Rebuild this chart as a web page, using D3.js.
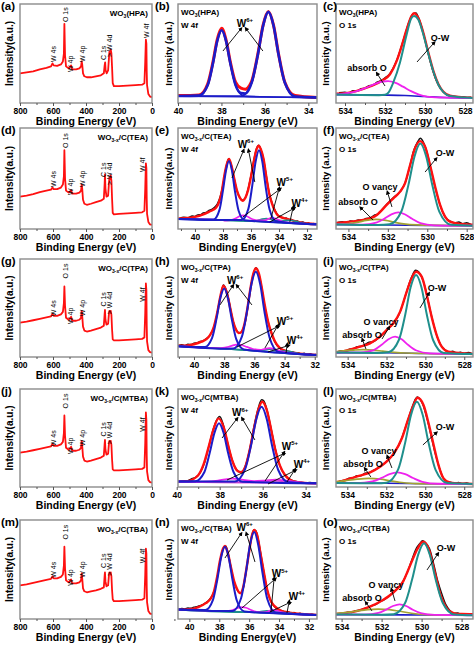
<!DOCTYPE html>
<html><head><meta charset="utf-8">
<script src="https://cdn.jsdelivr.net/npm/d3@7"></script>
<style>body{margin:0;background:#fff}svg{display:block}text{font-family:"Liberation Sans",Arial,sans-serif}</style>
</head><body><svg id="c" width="474" height="646"></svg>
<script>
// ================= DATA =================
const surveyTicks=[800,600,400,200,0], surveyMinor=[700,500,300,100];
const w4fTicksA=[40,38,36,34], w4fMinorA=[39,37,35];
const w4fTicksB=[40,38,36,34,32], w4fMinorB=[41,39,37,35,33];
const o1sTicks=[534,532,530,528], o1sMinor=[533,531,529];

const surveyA=[[800,30],[760,31],[720,32],[680,34],[640,35.5],[612,37],[603,40],[596,38],[575,37.5],[552,39],[540,42],[534,50],[531,80],[527,48],[521,37],[505,35],[495,37],[490,38],[484,34],[460,34],[440,35],[430,37],[426,42],[423,39],[418,30],[410,27],[395,26],[370,26],[340,27],[310,28],[292,30],[287,38],[284,41],[281,33],[275,30],[266,33],[261,45],[258,52],[254,50],[250,54],[246,50],[242,36],[238,20],[231,17],[200,17],[150,17.5],[100,18],[60,18.5],[46,20],[41,42],[37,64],[34,60],[32,32],[30,18],[22,9],[12,6.5],[0,6]];
const surveyD=[[800,32],[760,33],[720,34.5],[680,36.5],[640,38],[612,39],[603,41],[596,39.5],[575,39.5],[552,41],[540,44],[534,52],[531,78],[527,50],[521,38],[505,36],[495,37.5],[490,38.5],[484,35],[460,35],[440,36],[430,38],[426,44],[423,40],[418,29],[410,25],[395,24],[370,25],[340,26.5],[310,28],[292,30],[287,45],[285,54],[282,40],[276,32],[266,33],[261,45],[258,51],[254,49],[250,53],[246,48],[242,30],[238,16],[231,14.5],[200,15],[150,15.5],[100,16],[60,16.5],[46,18],[41,40],[37,65],[34,60],[32,30],[30,15],[22,7],[12,4.5],[0,4]];
const surveyG=[[800,35],[760,36],[720,37.5],[680,39],[640,40.5],[612,41.5],[603,44],[596,42],[575,42],[552,43.5],[540,46],[534,55],[531,72],[527,52],[521,40],[505,38],[495,40],[490,41],[484,37],[460,37],[440,38],[430,40],[426,47],[423,42],[418,31],[410,27],[395,26],[370,27],[340,28.5],[310,30],[292,32],[287,44],[285,48],[282,38],[276,33],[266,34],[261,44],[258,47],[254,45],[250,47],[246,43],[242,28],[238,18],[231,17],[200,17],[150,17.5],[100,18],[60,18.5],[46,20],[41,45],[37,75],[34,68],[32,33],[30,16],[22,7],[12,5],[0,4.5]];
const surveyJ=[[800,35],[760,36],[720,37.5],[680,39],[640,40.5],[612,41.5],[603,44],[596,42],[575,42],[552,43.5],[540,46],[534,55],[531,73],[527,52],[521,40],[505,38],[495,40],[490,41],[484,37],[460,37],[440,38],[430,40],[426,47],[423,42],[418,31],[410,27],[395,26],[370,27],[340,28.5],[310,30],[292,32],[287,44],[285,48],[282,38],[276,33],[266,34],[261,44],[258,47],[254,45],[250,47],[246,43],[242,28],[238,18],[231,17],[200,17],[150,17.5],[100,18],[60,18.5],[46,20],[41,45],[37,76],[34,68],[32,33],[30,16],[22,7],[12,5],[0,4.5]];
const surveyM=[[800,34],[760,35],[720,36.5],[680,38],[640,39.5],[612,40.5],[603,43],[596,41],[575,41],[552,42.5],[540,45],[534,54],[531,73],[527,51],[521,39],[505,37],[495,39],[490,40],[484,36],[460,36],[440,37],[430,39],[426,46],[423,41],[418,31],[410,28],[395,27],[370,28],[340,29],[310,30.5],[292,32],[287,44],[285,47],[282,38],[276,33],[266,34],[261,44],[258,47],[254,45],[250,47],[246,43],[242,29],[238,20],[231,18],[200,18],[150,18.5],[100,19],[60,19.5],[46,21],[41,45],[37,71],[34,66],[32,33],[30,17],[22,8],[12,5.5],[0,5]];

const surveyLabelNames=["W 4s","O 1s","W 4p","W 4p","C 1s","> W 4d","W 4f"];
const surveyLabelBE=[600,527,491,424,291,255,36];
const surveyLabelBE2=[600,527,491,424,291,255,60];
const surveyLabelA=[41.4,81.8,31.3,41.4,43.4,46.5,65.7];
const surveyLabelD=[41.6,80.2,33.7,41.6,51.5,43.6,56.4];

// (b) WO3(HPA) W 4f
const b_data=[[40,7.5],[39.03,8.2],[38.63,19.5],[38.39,41.5],[38.19,64.5],[37.99,75.5],[37.79,64],[37.59,41.5],[37.35,21],[37.1,15],[36.9,14],[36.7,18],[36.6,22.5],[36.32,50],[36.08,79],[35.84,92.5],[35.6,78.5],[35.37,49.5],[35.08,21],[34.61,7.5],[33.6,5.5]];
const b_env=[[40,7],[39.03,7.4],[38.63,18.1],[38.39,40.1],[38.19,62.9],[37.99,73.5],[37.79,62.8],[37.59,40],[37.35,18],[37.1,10],[36.9,9.5],[36.75,13],[36.6,21],[36.32,49.1],[36.08,78.2],[35.84,92],[35.6,78.1],[35.37,48.9],[35.08,20.4],[34.61,6.5],[33.6,5.5]];
const b_w6a=[[40,7],[39.03,7.4],[38.63,18.1],[38.39,40.1],[38.19,62.9],[37.99,73.5],[37.79,62.8],[37.59,39.9],[37.35,17.8],[36.95,6.9],[33.6,5.5]];
const b_w6b=[[40,7],[37.08,7.1],[36.6,20.8],[36.32,49.1],[36.08,78.2],[35.84,92],[35.6,78.1],[35.37,48.9],[35.08,20.4],[34.61,6.5],[33.6,5.5]];
const b_bg=[[40,7],[37,6.3],[35,5.8],[33.6,5.5]];

// (c) WO3(HPA) O 1s
const c_data=[[534.3,10.5],[534.0,11],[533.8,10],[533.6,12.5],[533.4,12],[533.2,14.5],[533.0,15],[532.8,17.5],[532.6,18],[532.4,21],[532.2,22.5],[532.0,25.5],[531.8,28.5],[531.6,35],[531.4,44],[531.2,56],[531.0,69],[530.8,82],[530.6,90],[530.45,91],[530.3,85],[530.1,72],[529.9,55],[529.7,39],[529.5,26],[529.3,17],[529.1,11.5],[528.9,8],[528.7,7],[528.5,6.5],[528.3,5.8],[528.1,6.3],[527.9,5.4],[527.7,5.8]];
const c_env=[[534.45,9.5],[534.08,9.7],[533.4,12.3],[532.75,16.7],[532.17,22.3],[531.75,29],[531.42,42.3],[531.17,57.3],[530.92,74],[530.67,88],[530.55,90.7],[530.33,85.7],[530.08,70.7],[529.83,50.7],[529.58,32.3],[529.33,19],[529.08,11.3],[528.75,7.3],[527.75,5.3],[527.6,5.2]];
const c_ow=[[534.45,8.5],[532.3,7.9],[532,8.3],[531.83,10.5],[531.58,21],[531.25,41],[530.92,69],[530.7,85],[530.55,88],[530.33,84],[530.08,69],[529.83,49.5],[529.58,31.5],[529.33,18.5],[529.08,11],[528.75,7],[527.6,5]];
const c_abs=[[534.45,8.8],[534,9.6],[533.5,11.5],[533,15],[532.5,19.3],[532.1,21.7],[531.85,22],[531.5,20.5],[531.1,16.5],[530.7,12],[530.3,8.5],[529.9,6.5],[529.3,5.6],[527.6,5]];
const c_bg=[[534.45,8.5],[532,8],[531,7.5],[530,6.5],[529,5.5],[527.6,5]];

// (e) TEA W 4f
const e_data=[[41.1,10.5],[40.8,11.8],[40.5,11.2],[40.2,12.8],[40,12.4],[39.8,14],[39.6,14.2],[39.4,16],[39.2,16.5],[39,18.5],[38.8,19.5],[38.6,21.5],[38.4,25],[38.2,32],[38,44],[37.8,60],[37.6,69.5],[37.4,63],[37.2,50],[37,38],[36.8,31],[36.6,28.5],[36.4,31],[36.2,40],[36,53],[35.8,68],[35.6,80],[35.45,83],[35.3,79],[35.1,69],[34.9,52],[34.7,36],[34.5,26],[34.3,19],[34.1,14],[33.9,12.5],[33.7,10.5],[33.5,11],[33.3,9],[33.1,9.5],[32.9,7.5],[32.7,8],[32.5,6.5],[32.3,7],[32.1,5.5],[31.9,6],[31.7,4.8],[31.5,5.5]];
const e_env=[[41.21,10.3],[40.5,11],[40,12],[39.4,14.5],[39,17],[38.7,19],[38.5,21],[38.3,26],[38.1,36],[37.9,53],[37.75,63],[37.57,69.3],[37.4,63],[37.2,50],[37.0,38],[36.8,31],[36.6,28],[36.4,31],[36.2,39],[36.0,52],[35.8,67],[35.6,79],[35.45,82.5],[35.3,79],[35.1,69],[34.9,51],[34.7,35],[34.5,25],[34.3,18],[34.05,13],[33.7,11],[33.3,9.5],[32.8,7.5],[32,5.5],[31.29,4.8]];
const e_w6a=[[41.21,10],[40,9.6],[38.68,9.3],[38.25,18.9],[38.0,38.2],[37.78,58.2],[37.57,67.4],[37.36,57.8],[37.15,37.8],[36.89,18.3],[36.46,8.7],[34,6.5],[31.29,4.6]];
const e_w6b=[[41.21,10],[38,8.8],[36.67,8.8],[36.19,19.9],[35.91,42.9],[35.67,66.7],[35.43,78],[35.19,66.5],[34.96,42.5],[34.67,19.1],[34.19,7.6],[32,5],[31.29,4.6]];
const e_w5=[[41.21,10],[38,8.8],[37.85,8.3],[37.35,9.1],[37.05,10.9],[36.8,12.7],[36.55,13.4],[36.3,12.6],[36.05,10.7],[35.75,9.1],[35.5,8.5],[35.0,8.6],[34.75,10.1],[34.5,11],[34.25,10.3],[34.0,8.8],[33.7,7.2],[33.2,6.2],[32,5],[31.29,4.6]];
const e_w4=[[41.21,10],[38,8.8],[36,7.8],[35.5,8.6],[35.2,9.8],[34.9,10.3],[34.6,9.6],[34.2,8.3],[33.7,8.4],[33.2,8.6],[32.8,7.6],[32.3,5.6],[31.29,4.6]];
const e_bg=[[41.21,10],[40,9.6],[38,8.8],[36,7.8],[34,6.5],[32,5],[31.29,4.6]];

// (f) TEA O 1s
const f_data=[[534.55,6.5],[534.3,7.2],[534.1,6.2],[533.9,8],[533.7,7.4],[533.5,9],[533.3,8.6],[533.1,10.5],[532.9,11],[532.7,13.5],[532.5,15],[532.3,19],[532.1,23.5],[531.9,27.5],[531.7,31.5],[531.5,34.5],[531.3,39],[531.1,47],[530.9,61],[530.7,77],[530.5,86],[530.35,89.8],[530.2,86],[530,75],[529.8,58],[529.6,41],[529.4,27],[529.2,16],[529,10],[528.8,7.5],[528.6,6],[528.4,7],[528.2,5.2],[528,6.2],[527.8,4.5]];
const f_env=[[534.63,6],[534.42,6.3],[533.8,7.5],[533.24,9],[532.56,13.9],[532.06,23.8],[531.72,30.4],[531.38,37],[531.13,45.2],[530.87,63.4],[530.62,79.9],[530.37,87],[530.11,81.5],[529.86,63.4],[529.6,41.9],[529.35,23.8],[529.1,12.2],[528.85,7.3],[528.3,5],[527.68,4.3]];
const f_ow=[[534.63,4.5],[532.5,4],[531.91,4.7],[531.31,17.6],[530.95,44.2],[530.65,71.6],[530.35,84.6],[530.05,71.5],[529.75,44],[529.39,17.2],[528.79,4.1],[527.68,3.2]];
const f_vac=[[534.63,4.5],[533.29,4.3],[532.59,6.2],[532.17,10.3],[531.82,14.5],[531.47,16.5],[531.12,14.4],[530.77,10.1],[530.35,5.8],[529.65,3.6],[527.68,3.2]];
const f_abs=[[534.63,4.6],[534.0,5.3],[533.5,6.8],[533.1,8.5],[532.6,9.5],[532.1,8.5],[531.7,6.8],[531.2,5.0],[530.5,4],[527.68,3.2]];
const f_bg=[[534.63,4.5],[532,4],[530,3.5],[527.68,3.2]];

// (h) TPA W 4f
const h_data=[[41,11.8],[40.8,12.5],[40.6,11.6],[40.4,13],[40.2,12.8],[40,14],[39.8,14.5],[39.6,15.8],[39.4,16.5],[39.2,18.5],[39,21],[38.8,26],[38.6,35],[38.4,50],[38.2,65],[38.05,73.5],[37.9,70],[37.7,59],[37.5,43],[37.3,31],[37.1,25.5],[36.95,24.5],[36.8,27],[36.6,36],[36.4,54],[36.2,75],[36,88],[35.9,91],[35.75,87],[35.55,74],[35.35,55],[35.15,40],[34.95,28],[34.75,19],[34.55,13],[34.35,9.5],[34.1,7],[33.9,6.5],[33.7,5],[33.5,5.5],[33.3,4],[33.1,4.5],[32.9,3.2],[32.7,3.8],[32.5,2.8],[32.3,3.3],[32.1,2.3],[31.9,2.6]];
const h_env=[[41.06,11.5],[40.6,11.6],[40,13],[39.5,15.6],[39.2,18],[38.95,22],[38.7,30],[38.45,46],[38.25,62],[38.05,72.8],[37.85,67],[37.6,50],[37.4,36],[37.2,27.5],[37.05,24.5],[36.9,25],[36.7,31],[36.5,46],[36.3,66],[36.1,83],[35.9,90.5],[35.7,85],[35.5,70],[35.3,52],[35.09,36],[34.85,24],[34.65,16.3],[34.3,9],[33.77,5.4],[33,3.5],[31.85,2.2]];
const h_w6a=[[41.06,11],[39.3,10.1],[38.8,19.6],[38.5,39.7],[38.25,60.4],[38,70],[37.75,60],[37.5,38.8],[37.2,18.2],[36.7,7.7],[34,4],[31.85,2]];
const h_w6b=[[41.06,11],[38,8.5],[37.4,8.6],[36.82,21],[36.48,47.3],[36.19,74.5],[35.9,87],[35.61,73.9],[35.33,46.1],[34.98,19.1],[34.4,5.2],[31.85,2]];
const h_w5=[[41.06,11],[38.5,9],[38.2,9.2],[37.7,10.5],[37.35,12.1],[37.1,13],[36.85,12.2],[36.5,10.3],[36.1,8.2],[35.6,7.3],[35.3,8.3],[35.0,9],[34.7,8.2],[34.3,6.1],[33.8,4.5],[31.85,2]];
const h_w4=[[41.06,11],[38,8.5],[36,6.5],[35.4,7.2],[35,8],[34.6,7],[34.2,6],[33.9,6.2],[33.5,5],[33,3.3],[31.85,2]];
const h_bg=[[41.06,11],[40.6,10.5],[38,8.5],[36,6.5],[34,4],[32,2],[31.85,2]];

// (i) TPA O 1s
const i_data=[[534.5,5.5],[534.3,6.5],[534.1,6],[533.9,8],[533.7,8.5],[533.5,10.5],[533.3,11],[533.1,13],[532.9,15],[532.7,15.5],[532.5,18],[532.3,21],[532.1,25],[531.9,29],[531.7,33],[531.5,38],[531.3,46],[531.1,58],[530.9,71],[530.7,82],[530.5,88.5],[530.35,87],[530.2,82],[530,70],[529.8,52],[529.6,35],[529.4,21],[529.2,12],[529,7.5],[528.8,5],[528.6,5.8],[528.4,4],[528.2,5],[528,3.6],[527.8,4.6],[527.6,3.4]];
const i_env=[[534.6,5],[534.3,5.4],[533.8,8],[533.37,10.5],[532.85,13.9],[532.34,20.7],[531.99,27.6],[531.65,34.4],[531.3,46.3],[530.96,66.7],[530.71,80.3],[530.48,87],[530.19,82],[529.93,63.3],[529.68,41.2],[529.42,22.4],[529.16,10.5],[528.82,5.4],[527.55,3.1]];
const i_ow=[[534.6,4.5],[532.5,4.2],[531.91,4.9],[531.36,17.6],[531.03,43.9],[530.76,71.1],[530.48,83.7],[530.2,71],[529.93,43.6],[529.6,17.1],[529.05,4.1],[527.55,3]];
const i_vac=[[534.6,4.5],[533.34,4.5],[532.66,7.1],[532.25,12.5],[531.9,18.1],[531.56,20.7],[531.22,18],[530.88,12.2],[530.46,6.6],[529.78,3.8],[527.55,3]];
const i_abs=[[534.6,5.3],[534.2,6.2],[533.7,7],[533.2,7.5],[532.7,7],[532.2,6.0],[531.6,4.8],[531,4.1],[527.55,3]];
const i_bg=[[534.6,4.5],[532,4.3],[530,3.5],[527.55,3]];

// (k) MTBA W 4f
const k_data=[[39.9,5.5],[39.7,6.5],[39.5,6.2],[39.3,8.5],[39.1,10],[38.9,15],[38.7,25],[38.5,42],[38.3,59],[38.1,70],[38,72],[37.85,65],[37.65,47],[37.45,30],[37.25,19],[37.1,15.5],[36.95,16],[36.8,22],[36.6,39],[36.4,62],[36.2,81],[36.05,89],[35.95,88],[35.8,79],[35.6,59],[35.4,38],[35.2,22],[35,13],[34.8,8.5],[34.6,6.5],[34.4,5.5],[34.2,4.8],[34,4.3],[33.8,4.6],[33.6,3.8]];
const k_env=[[39.94,5.5],[39.5,6],[39.0,12],[38.75,23],[38.5,42],[38.3,58],[38.05,70],[37.8,60],[37.6,42],[37.4,26],[37.15,16],[37.0,15],[36.8,21],[36.6,38],[36.4,60],[36.2,79],[36.02,87],[35.8,78],[35.6,58],[35.4,37],[35.2,22],[34.95,12],[34.6,6],[34.2,4.5],[33.47,3.8]];
const k_w6a=[[39.94,5.5],[39.14,5.8],[38.71,15.3],[38.46,35.1],[38.24,55.4],[38.03,65],[37.82,55.3],[37.61,34.9],[37.35,15.1],[36.93,5.3],[33.47,3.7]];
const k_w6b=[[39.94,5.5],[37.3,5.5],[36.82,17.9],[36.53,43.4],[36.29,69.7],[36.05,82],[35.81,69.5],[35.57,43.2],[35.28,17.6],[34.8,4.9],[33.47,3.7]];
const k_w5=[[39.94,5.5],[39,5.3],[38.4,5.8],[37.9,7.2],[37.4,8.5],[36.9,7.3],[36.4,6],[35.9,6.6],[35.4,7.5],[34.9,6.5],[34.3,4.6],[33.47,3.7]];
const k_w4=[[39.94,5.5],[36.5,4.6],[36,5.5],[35.5,6.3],[35.1,6],[34.8,6.1],[34.4,5],[33.9,4],[33.47,3.7]];
const k_bg=[[39.94,5.5],[38,5],[36,4.5],[34,3.9],[33.47,3.7]];

// (l) MTBA O 1s
const l_data=[[534.5,5],[534.3,6.5],[534.1,7],[533.9,9],[533.7,9.5],[533.5,11.5],[533.3,11.5],[533.1,14],[532.9,14.5],[532.7,16.5],[532.5,18.5],[532.3,21],[532.1,24],[531.9,28],[531.7,32],[531.5,38],[531.3,45],[531.1,56],[530.9,68],[530.7,80],[530.5,90],[530.4,92],[530.25,89],[530.1,83],[529.9,69],[529.7,52],[529.5,35],[529.3,21],[529.1,10],[528.9,5.5],[528.7,4.8],[528.5,3.5],[528.3,4.6],[528.1,3.2],[527.9,4.2],[527.7,3]];
const l_env=[[534.58,5],[534.29,6],[533.8,9],[533.35,11.6],[532.83,15],[532.32,20.7],[531.89,27.6],[531.55,36],[531.2,49.7],[530.86,70],[530.6,83.7],[530.4,91],[530.09,83.7],[529.83,65],[529.57,42.9],[529.32,22.4],[529.06,8.8],[528.72,4.4],[527.55,3.1]];
const l_ow=[[534.58,4],[532.5,3.8],[531.99,4.4],[531.39,17.9],[531.03,45.3],[530.73,73.6],[530.43,87],[530.13,73.5],[529.83,45.1],[529.47,17.5],[528.87,4],[527.55,3]];
const l_vac=[[534.58,4],[533.51,3.9],[532.71,5.7],[532.23,9.4],[531.83,13.2],[531.43,15],[531.03,13.1],[530.63,9.2],[530.15,5.3],[529.35,3.3],[527.55,3]];
const l_abs=[[534.58,5.2],[534.1,6.5],[533.5,8],[532.9,8.8],[532.3,8],[531.8,6.3],[531.2,4.6],[530.5,3.5],[527.55,3]];
const l_bg=[[534.58,4],[532,3.8],[530,3.3],[527.55,3]];

// (n) TBA W 4f
const n_data=[[40.7,9.8],[40.5,10.6],[40.3,10.2],[40.1,11.2],[39.9,10.8],[39.7,12],[39.5,12.5],[39.3,13.5],[39.1,14.5],[38.9,16.5],[38.7,19],[38.5,23],[38.3,30],[38.1,45],[37.9,62],[37.7,72.5],[37.55,73.5],[37.4,66],[37.2,51],[37,37],[36.8,29.5],[36.6,26],[36.4,31],[36.2,48],[36,68],[35.85,82],[35.7,90],[35.55,89],[35.4,81],[35.2,64],[35,46],[34.8,30],[34.6,20],[34.4,14],[34.2,11],[34,9],[33.8,8.5],[33.6,7],[33.4,7.5],[33.2,6],[33,6.5],[32.8,5.2],[32.6,5.8],[32.4,4.6],[32.2,5.2],[32,4.2],[31.8,4.8],[31.6,4]];
const n_env=[[40.76,9.3],[40,9.8],[39.4,12],[38.9,16],[38.6,20],[38.35,28],[38.15,42],[37.95,59],[37.75,71],[37.62,73.8],[37.45,68],[37.2,51],[37,38],[36.8,30],[36.6,26],[36.4,32],[36.2,49],[36.0,68],[35.85,82],[35.66,90],[35.45,84],[35.25,67],[35.0,46],[34.8,30],[34.6,20],[34.3,13],[33.8,8],[33.3,6.5],[32.5,5],[31.46,4.2]];
const n_w6a=[[40.76,9.5],[38.92,9.1],[38.42,19.3],[38.12,40.7],[37.87,62.7],[37.62,73],[37.37,62.4],[37.12,40.1],[36.82,18.4],[36.32,7.6],[34,5.6],[31.46,4]];
const n_w6b=[[40.76,9.5],[38,8],[37.09,8.2],[36.54,20.9],[36.21,47.6],[35.94,75.2],[35.66,88],[35.39,74.8],[35.11,47],[34.78,19.9],[34.23,6.5],[31.46,4]];
const n_w5=[[40.76,9.5],[38,8],[37.75,7.9],[37.25,8.6],[36.95,10],[36.7,11.4],[36.45,12],[36.2,11.3],[35.95,9.6],[35.65,7.7],[35.2,6.7],[34.85,7.1],[34.6,8.4],[34.35,9],[34.1,8.3],[33.85,7],[33.5,5.6],[31.46,4]];
const n_w4=[[40.76,9.5],[36,6.8],[35.3,7.3],[34.8,8.2],[34.3,7],[33.6,6.6],[33.1,5.5],[31.46,4]];
const n_bg=[[40.76,9.5],[40,9.1],[38,8],[36,6.8],[34,5.6],[32,4.3],[31.46,4]];

// (o) TBA O 1s
const o_data=[[534.1,5.5],[533.9,5],[533.7,6.8],[533.5,6.5],[533.3,8.5],[533.1,8.8],[532.9,10.5],[532.7,11.5],[532.5,13.5],[532.3,14.5],[532.1,17.5],[531.9,19],[531.7,22],[531.5,25.5],[531.3,29],[531.1,33],[530.9,39],[530.7,48],[530.5,59],[530.3,70],[530.1,76],[529.95,79],[529.8,77],[529.6,71],[529.4,56],[529.2,39],[529,26],[528.8,15],[528.6,9],[528.4,5.5],[528.2,6],[528,4.5],[527.8,5.2],[527.6,4]];
const o_env=[[534.28,5],[534,5.5],[533.25,8],[532.58,12.5],[532.08,17.5],[531.58,24],[531.25,30],[530.92,38],[530.7,48],[530.45,60],[530.2,71],[529.92,78],[529.65,71],[529.35,48],[529.05,24],[528.75,11],[528.4,6],[528,5],[527.43,4.8]];
const o_ow=[[534.28,4.5],[532,4.3],[531.4,4.8],[530.82,16.4],[530.47,40.3],[530.17,65],[529.88,76.5],[529.59,64.9],[529.3,40.2],[528.94,16.2],[528.36,4.6],[527.43,3.8]];
const o_vac=[[534.28,4.5],[532.83,4.4],[532.16,6.1],[531.77,9.5],[531.43,13.1],[531.1,14.8],[530.77,13.1],[530.44,9.3],[530.04,5.9],[529.37,4.1],[527.43,3.8]];
const o_abs=[[534.28,5.5],[533.7,6.6],[533.2,8.2],[532.7,9.5],[532.17,10],[531.6,9.4],[531.1,7.8],[530.5,5.8],[529.8,4.5],[527.43,3.8]];
const o_bg=[[534.28,4.5],[532,4.3],[530,4],[527.43,3.8]];

// ================= LAYOUT / RENDER =================
const rowTop=[4,128,259,389,520], rowBot=[103,229,357,487,619];
const colX=[[20,152],[178,317],[336,473]];
const C={red:"#ff1010",blue:"#1c1cc8",mag:"#ee22ee",teal:"#1f8f8c",olive:"#a3a332",blk:"#111",pur:"#c040d0"};
const svg=d3.select('#c');
const defs=svg.append('defs');
defs.append('marker').attr('id','ah').attr('viewBox','0 0 10 10').attr('refX',1).attr('refY',5)
 .attr('markerWidth',5).attr('markerHeight',5).attr('orient','auto-start-reverse')
 .append('path').attr('d','M0,0L10,5L0,10z').attr('fill','#000');

function wtitle(g,x,y,anchor,sub,rest){
  const t=g.append('text').attr('x',x).attr('y',y).attr('text-anchor',anchor).attr('font-size',8).attr('font-weight','bold');
  t.append('tspan').text('WO');
  t.append('tspan').attr('font-size',5).attr('dy',2).text(sub);
  t.append('tspan').attr('dy',-2).text(rest);
}
function supText(g,x,y,base,sup){
  const t=g.append('text').attr('x',x).attr('y',y).attr('text-anchor','middle').attr('font-size',10).attr('font-weight','bold');
  t.append('tspan').text(base);
  t.append('tspan').attr('font-size',6).attr('dy',-4.5).text(sup);
}

function panel(p){
  const [x0,x1]=colX[p.col], top=rowTop[p.row], bot=rowBot[p.row];
  const x=d3.scaleLinear().domain(p.dom).range([x0,x1]);
  const y=d3.scaleLinear().domain([0,100]).range([bot,top]);
  const g=svg.append('g');
  defs.append('clipPath').attr('id','cl'+p.id).append('rect').attr('x',x0).attr('y',top).attr('width',x1-x0).attr('height',bot-top);
  const pl=g.append('g').attr('clip-path',`url(#cl${p.id})`);
  p.curves.forEach(c=>{
    pl.append('path').datum(c.d).attr('fill','none').attr('stroke',c.c).attr('stroke-width',c.w)
      .attr('stroke-linejoin','round')
      .attr('d',d3.line().x(d=>x(d[0])).y(d=>y(d[1])).curve(c.lin?d3.curveLinear:d3.curveMonotoneX));
  });
  g.append('rect').attr('x',x0).attr('y',top).attr('width',x1-x0).attr('height',bot-top)
    .attr('fill','none').attr('stroke','#8c8c8c').attr('stroke-width',1.4);
  const ax=g.append('g').attr('transform',`translate(0,${bot})`)
    .call(d3.axisBottom(x).tickValues(p.ticks).tickSize(3).tickPadding(1.5).tickFormat(d3.format('d')));
  ax.select('.domain').remove();
  ax.selectAll('line').attr('stroke','#555');
  ax.selectAll('text').attr('font-size',8.5).attr('font-weight','bold').attr('font-family','"Liberation Sans",Arial,sans-serif');
  const mi=g.append('g').attr('transform',`translate(0,${bot})`)
    .call(d3.axisBottom(x).tickValues(p.minor).tickSize(2).tickFormat(''));
  mi.select('.domain').remove(); mi.selectAll('line').attr('stroke','#555');
  g.append('text').attr('x',(x0+x1)/2).attr('y',bot+22).attr('text-anchor','middle')
    .attr('font-size',10.5).attr('font-weight','bold').text(p.xlab);
  const yx=[13,172,329][p.col];
  g.append('text').attr('transform',`translate(${yx},${(top+bot)/2}) rotate(-90)`).attr('text-anchor','middle')
    .attr('font-size',p.col===0?10:9.5).attr('font-weight','bold').text(p.ylab);
  g.append('text').attr('x',[1,155,323][p.col]).attr('y',top+6).attr('font-family','"Liberation Serif","Times New Roman",serif')
    .attr('font-size',11.5).attr('font-weight','bold').text(`(${p.id})`);
  if(p.col===0){ wtitle(g,x1-4,top+12,'end',p.sub,p.rest); }
  else { wtitle(g,x0+3,top+11,'start',p.sub,p.rest);
         g.append('text').attr('x',x0+3).attr('y',top+24).attr('font-size',8).attr('font-weight','bold').text(p.col===1?'W 4f':'O 1s'); }
  if(p.slab){
    const be=p.id==='a'?surveyLabelBE:surveyLabelBE2;
    surveyLabelNames.forEach((t,i)=>{
      g.append('text').attr('transform',`translate(${x(be[i])+2.5},${y(p.slab[i])}) rotate(-90)`)
        .attr('font-size',7).text(t);
    });
  }
  (p.ann||[]).forEach(a=>{
    if(a.sup) supText(g,x(a.at[0]),y(a.at[1]),a.t,a.sup);
    else g.append('text').attr('x',x(a.at[0])).attr('y',y(a.at[1])).attr('text-anchor','middle').attr('font-size',9).attr('font-weight','bold').text(a.t);
    (a.arrows||[]).forEach(ar=>{
      g.append('line').attr('x1',x(ar[0])).attr('y1',y(ar[1])).attr('x2',x(ar[2])).attr('y2',y(ar[3]))
        .attr('stroke','#000').attr('stroke-width',0.9).attr('marker-start','url(#ah)');
    });
  });
}

const S=(d)=>[{d,c:C.red,w:1.8,lin:true}];
const W4F=(data,env,w6a,w6b,w5,w4,bg,alt)=>[
  {d:data,c:C.blk,w:1.4},{d:env,c:C.red,w:2.4},
  {d:bg,c:alt?C.mag:C.teal,w:1.6},{d:w4,c:alt?C.pur:C.teal,w:1.6},{d:w5,c:C.mag,w:1.7},
  {d:w6a,c:C.blue,w:2},{d:w6b,c:C.blue,w:2}];
const O1S=(data,env,ow,vac,abs,bg)=>[
  {d:data,c:C.blk,w:1.4},{d:env,c:C.red,w:2.4},{d:bg,c:C.blue,w:1.6},
  {d:abs,c:C.olive,w:1.7},{d:vac,c:C.mag,w:1.8},{d:ow,c:C.teal,w:2}];

const BE="Binding Energy (eV)", BE2="Binding Energy(eV)", I1="Intensity(a.u.)", I2="Intensity (a.u.)";
const wAnn=(w6,w6a,w6b,w5,w5a,w4,w4a)=>[
  {t:'W',sup:'6+',at:w6,arrows:[w6a,w6b]},{t:'W',sup:'5+',at:w5,arrows:w5a},{t:'W',sup:'4+',at:w4,arrows:w4a}];
const oAnn=(ow,owa,vac,vaca,ab,aba)=>[
  {t:'O-W',at:ow,arrows:[owa]},{t:'O vancy',at:vac,arrows:[vaca]},{t:'absorb O',at:ab,arrows:[aba]}];

const panels=[
 {id:'a',col:0,row:0,dom:[800,0],ticks:surveyTicks,minor:surveyMinor,curves:S(surveyA),slab:surveyLabelA,sub:'3',rest:'(HPA)',xlab:BE,ylab:I1},
 {id:'b',col:1,row:0,dom:[40,33.6],ticks:w4fTicksA,minor:w4fMinorA,sub:'3',rest:'(HPA)',xlab:BE,ylab:I2,
  curves:[{d:b_data,c:C.red,w:3},{d:b_bg,c:C.blue,w:1.6},{d:b_w6a,c:C.blue,w:1.6},{d:b_w6b,c:C.blue,w:1.6},{d:b_env,c:C.blue,w:2.6}],
  ann:[{t:'W',sup:'6+',at:[36.92,76.8],arrows:[[37.15,73.7,37.93,52.5],[36.82,73.7,36.09,52.5]]}]},
 {id:'c',col:2,row:0,dom:[534.45,527.6],ticks:o1sTicks,minor:o1sMinor,sub:'3',rest:'(HPA)',xlab:BE,ylab:I2,
  curves:[{d:c_data,c:C.blk,w:1.4},{d:c_env,c:C.red,w:2.4},{d:c_bg,c:C.blue,w:1.6},{d:c_abs,c:C.mag,w:1.8},{d:c_ow,c:C.teal,w:2}],
  ann:[{t:'O-W',at:[529.25,62.6],arrows:[[529.6,59.6,530.4,41.4]]},{t:'absorb O',at:[532.9,32.3],arrows:[[532.35,28.3,532.0,17.2]]}]},
 {id:'d',col:0,row:1,dom:[800,0],ticks:surveyTicks,minor:surveyMinor,curves:S(surveyD),slab:surveyLabelD,sub:'3-x',rest:'/C(TEA)',xlab:BE,ylab:I1},
 {id:'e',col:1,row:1,dom:[41.21,31.29],ticks:w4fTicksB,minor:w4fMinorB,sub:'3-x',rest:'/C(TEA)',xlab:BE2,ylab:I1,
  curves:W4F(e_data,e_env,e_w6a,e_w6b,e_w5,e_w4,e_bg),
  ann:wAnn([36.37,80.2],[36.58,76.2,37.36,50.5],[36.15,76.2,35.73,46.5],[33.59,42.6],[[34.02,38.6,36.58,11.9],[34.02,38.6,34.59,9.9]],[32.52,21.8],[[33.02,19.8,34.66,6.9],[33.02,19.8,33.23,6.9]])},
 {id:'f',col:2,row:1,dom:[534.63,527.68],ticks:o1sTicks,minor:o1sMinor,sub:'3-x',rest:'/C(TEA)',xlab:BE,ylab:I2,
  curves:O1S(f_data,f_env,f_ow,f_vac,f_abs,f_bg),
  ann:oAnn([529.1,72.3],[529.61,68.3,530.11,56.4],[532.4,38.6],[531.99,34.7,531.79,21.8],[533.51,23.8],[533.31,19.8,532.75,8.9])},
 {id:'g',col:0,row:2,dom:[800,0],ticks:surveyTicks,minor:surveyMinor,curves:S(surveyG),slab:surveyLabelD,sub:'3-x',rest:'/C(TPA)',xlab:BE,ylab:I1},
 {id:'h',col:1,row:2,dom:[41.06,31.85],ticks:w4fTicksB,minor:w4fMinorB,sub:'3-x',rest:'/C(TPA)',xlab:BE,ylab:I2,
  curves:W4F(h_data,h_env,h_w6a,h_w6b,h_w5,h_w4,h_bg),
  ann:wAnn([37.28,74.5],[37.48,71.4,38.28,53.1],[37.08,71.4,36.16,53.1],[33.97,32.7],[[34.5,30.6,37.15,10.2],[34.5,30.6,35.3,9.2]],[33.31,13.3],[[33.84,11.2,35.1,5.1],[33.84,11.2,33.9,4.1]])},
 {id:'i',col:2,row:2,dom:[534.6,527.55],ticks:o1sTicks,minor:o1sMinor,sub:'3-x',rest:'/C(TPA)',xlab:BE,ylab:I2,
  curves:O1S(i_data,i_env,i_ow,i_vac,i_abs,i_bg),
  ann:oAnn([529.4,67.3],[529.87,63.3,530.28,50],[532.28,32.7],[531.92,28.6,532.23,18.4],[533.26,19.4],[533.21,16.3,533.06,8.2])},
 {id:'j',col:0,row:3,dom:[800,0],ticks:surveyTicks,minor:surveyMinor,curves:S(surveyJ),slab:surveyLabelD,sub:'3-x',rest:'/C(MTBA)',xlab:BE,ylab:I1},
 {id:'k',col:1,row:3,dom:[39.94,33.47],ticks:w4fTicksA,minor:w4fMinorA,sub:'3-x',rest:'/C(MTBA)',xlab:BE,ylab:I2,
  curves:W4F(k_data,k_env,k_w6a,k_w6b,k_w5,k_w4,k_bg,true),
  ann:wAnn([37.05,72.4],[37.24,68.4,37.89,50],[36.91,68.4,36.36,48],[34.73,37.8],[[35.05,33.7,37.66,7.1],[35.05,33.7,35.89,6.1]],[34.17,19.4],[[34.54,16.3,35.75,3.1],[34.54,16.3,34.87,5.1]])},
 {id:'l',col:2,row:3,dom:[534.58,527.55],ticks:o1sTicks,minor:o1sMinor,sub:'3-x',rest:'/C(MTBA)',xlab:BE,ylab:I2,
  curves:O1S(l_data,l_env,l_ow,l_vac,l_abs,l_bg),
  ann:oAnn([528.99,58.2],[529.5,54.1,530.12,42.9],[532.37,33.7],[531.91,29.6,531.71,19.4],[533.19,20.4],[533.04,17.3,532.79,10.2])},
 {id:'m',col:0,row:4,dom:[800,0],ticks:surveyTicks,minor:surveyMinor,curves:S(surveyM),slab:surveyLabelD,sub:'3-x',rest:'/C(TBA)',xlab:BE,ylab:I1},
 {id:'n',col:1,row:4,dom:[40.76,31.46],ticks:w4fTicksB,minor:w4fMinorB,sub:'3-x',rest:'/C(TBA)',xlab:BE2,ylab:I1,
  curves:W4F(n_data,n_env,n_w6a,n_w6b,n_w5,n_w4,n_bg),
  ann:wAnn([36.3,88.9],[36.6,84.8,37.62,61.6],[36.15,84.8,35.61,57.6],[33.94,42.4],[[34.34,39.4,36.48,11.1],[34.34,39.4,34.54,7.1]],[32.8,19.2],[[33.34,16.2,34.61,7.1],[33.34,16.2,33.47,6.1]])},
 {id:'o',col:2,row:4,dom:[534.28,527.43],ticks:o1sTicks,minor:o1sMinor,sub:'3-x',rest:'/C(TBA)',xlab:BE,ylab:I2,
  curves:O1S(o_data,o_env,o_ow,o_vac,o_abs,o_bg),
  ann:oAnn([528.78,68.7],[529.23,64.6,529.73,49.5],[531.78,31.3],[531.48,28.3,531.33,18.2],[532.98,18.2],[532.73,15.2,532.48,8.1])}
];
panels.forEach(panel);
</script></body></html>
